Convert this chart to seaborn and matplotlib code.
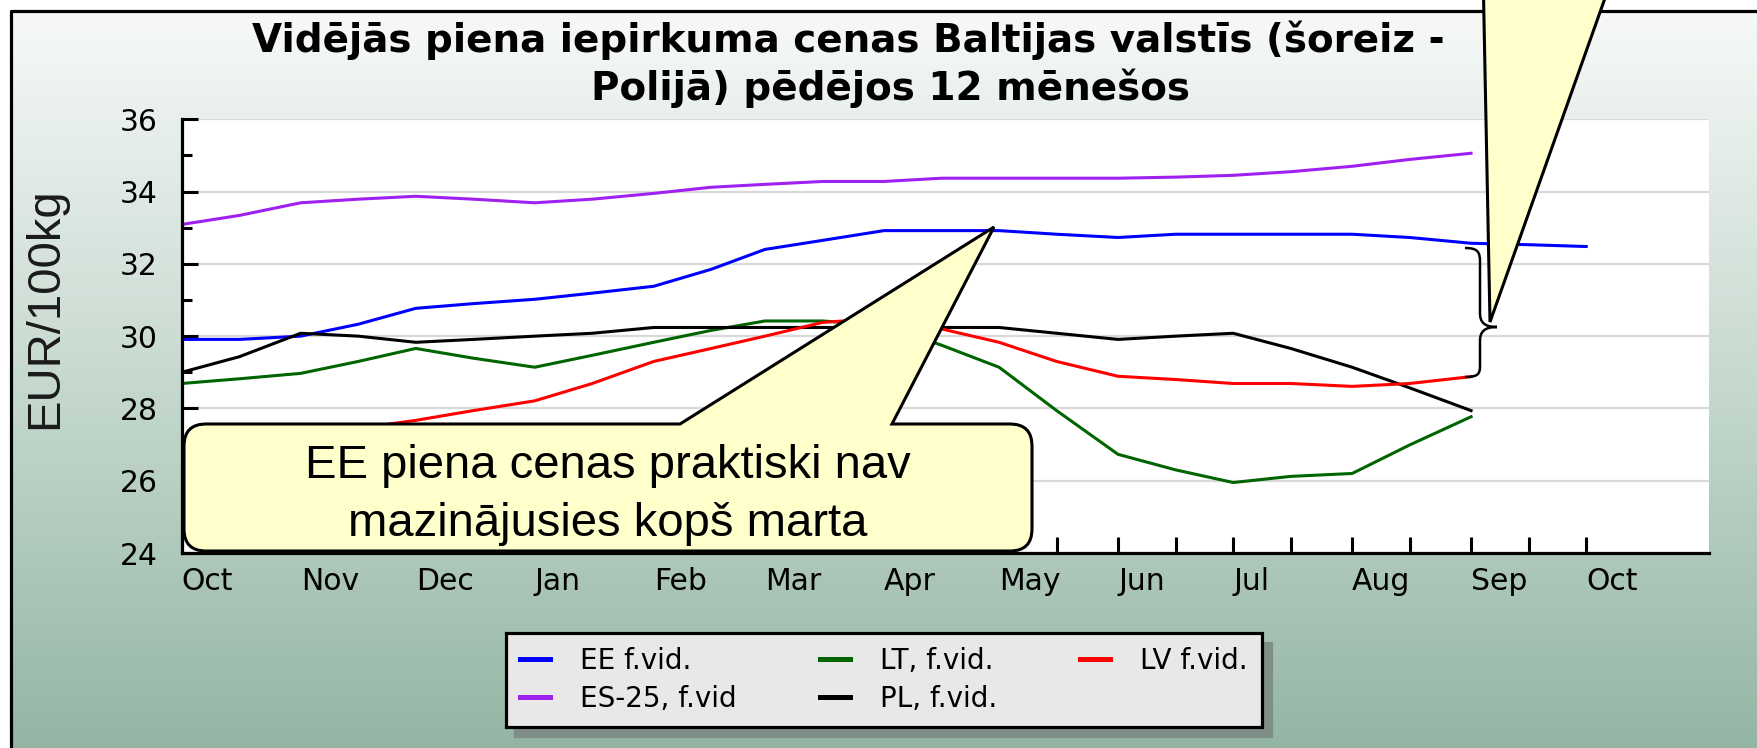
"""
Vidējās piena iepirkuma cenas - Baltijas valstis un Polija, pēdējie 12 mēneši.
"""

# %%
import matplotlib

matplotlib.use("Agg")
import matplotlib.pyplot as plt
import numpy as np
import pandas as pd
import seaborn as sns
from matplotlib.colors import LinearSegmentedColormap
from matplotlib.lines import Line2D
from matplotlib.patches import PathPatch, Polygon
from matplotlib.path import Path
from matplotlib.transforms import Affine2D

# %% [markdown]
# ## Data (1st and 16th of each month)

# %%
dates = pd.to_datetime([
    "2011-10-01", "2011-10-16", "2011-11-01", "2011-11-16", "2011-12-01",
    "2011-12-16", "2012-01-01", "2012-01-16", "2012-02-01", "2012-02-16",
    "2012-03-01", "2012-03-16", "2012-04-01", "2012-04-16", "2012-05-01",
    "2012-05-16", "2012-06-01", "2012-06-16", "2012-07-01", "2012-07-16",
    "2012-08-01", "2012-08-16", "2012-09-01", "2012-09-16", "2012-10-01",
])

ee = [29.91, 29.91, 30.00, 30.33, 30.77, 30.90, 31.02, 31.19, 31.38, 31.85,
      32.40, 32.65, 32.92, 32.92, 32.92, 32.82, 32.73, 32.82, 32.82, 32.82,
      32.82, 32.73, 32.57, 32.53, 32.48]
es25 = [33.09, 33.34, 33.69, 33.79, 33.87, 33.79, 33.69, 33.79, 33.95, 34.12,
        34.20, 34.28, 34.28, 34.37, 34.37, 34.37, 34.37, 34.40, 34.45, 34.55,
        34.70, 34.89, 35.06]
lt = [28.69, 28.82, 28.97, 29.30, 29.66, 29.39, 29.14, 29.47, 29.83, 30.16,
      30.42, 30.42, 30.30, 29.75, 29.14, 27.94, 26.73, 26.30, 25.95, 26.12,
      26.20, 26.99, 27.77]
pl = [29.00, 29.43, 30.08, 30.00, 29.83, 29.91, 30.00, 30.08, 30.24, 30.24,
      30.24, 30.24, 30.24, 30.24, 30.24, 30.08, 29.91, 30.00, 30.08, 29.66,
      29.14, 28.57, 27.94]
lv = [26.66, 26.95, 27.20, 27.45, 27.67, 27.94, 28.21, 28.69, 29.30, 29.66,
      30.00, 30.38, 30.50, 30.20, 29.83, 29.30, 28.89, 28.80, 28.69, 28.69,
      28.61, 28.69, 28.88]

# legend fills column-wise, so this order gives EE / ES-25 | LT / PL | LV
series_names = ["EE f.vid.", "ES-25, f.vid", "LT, f.vid.", "PL, f.vid.", "LV f.vid."]
series_colors = ["#0000ff", "#a020f0", "#006400", "#000000", "#ff0000"]
series_values = [ee, es25, lt, pl, lv]

month_labels = ["Oct", "Nov", "Dec", "Jan", "Feb", "Mar", "Apr",
                "May", "Jun", "Jul", "Aug", "Sep", "Oct"]
y_ticks = [24, 26, 28, 30, 32, 34, 36]

title_line1 = "Vidējās piena iepirkuma cenas Baltijas valstīs (šoreiz -"
title_line2 = "Polijā) pēdējos 12 mēnešos"
note_line1 = "EE piena cenas praktiski nav"
note_line2 = "mazinājusies kopš marta"

# %%
frames = []
for name, vals in zip(series_names, series_values):
    frames.append(pd.DataFrame({"date": dates[: len(vals)], "price": vals, "series": name}))
df = pd.concat(frames, ignore_index=True)

# %% [markdown]
# ## Figure

# %%
W, H = 1758, 748
fig = plt.figure(figsize=(W / 100, H / 100), dpi=100)
fig.patch.set_facecolor("white")
# pixel coordinates, origin top-left
px = Affine2D().scale(1 / W, -1 / H).translate(0, 1) + fig.transFigure

# background panel with vertical gradient and black border
bg = fig.add_axes([0, 0, 1, 1], zorder=-5)
bg.set_axis_off()
bg.set_xlim(0, W)
bg.set_ylim(H, 0)
panel_cmap = LinearSegmentedColormap.from_list("panel", ["#f7f9f8", "#c6d9cf", "#93b5a4"])
bg.imshow(np.linspace(0, 1, 256)[:, None], cmap=panel_cmap, extent=[10, W + 5, H + 5, 10],
          aspect="auto", interpolation="bilinear")
bg.plot([11, 11, W + 5], [H + 5, 11, 11], color="black", lw=2.3, solid_capstyle="butt")

# %%
ax = fig.add_axes([181.7 / W, 1 - 553 / H, (1709 - 181.7) / W, (553 - 119.3) / H])
ax.set_facecolor("white")
sns.lineplot(
    data=df, x="date", y="price", hue="series", hue_order=series_names,
    palette=dict(zip(series_names, series_colors)), lw=2.2, ax=ax, legend=False,
)

ax.set_ylim(y_ticks[0], y_ticks[-1])
ax.set_yticks(y_ticks)
ax.set_yticks(np.arange(y_ticks[0] + 1, y_ticks[-1], 2), minor=True)
ax.set_xlim(dates[0], dates[-1] + pd.Timedelta(days=32))
month_starts = pd.date_range(dates[0], dates[-1], freq="MS")
ax.set_xticks(month_starts)
ax.set_xticks(month_starts[:-1] + pd.Timedelta(days=15), minor=True)
ax.set_xticklabels(month_labels, ha="left")
ax.set_xlabel("")
ax.set_ylabel("")

for side in ["top", "right"]:
    ax.spines[side].set_visible(False)
for side in ["left", "bottom"]:
    ax.spines[side].set_linewidth(2.3)
    ax.spines[side].set_color("black")

ax.tick_params(axis="y", which="major", direction="in", length=11.5, width=2.2,
               labelsize=21.5, pad=17)
ax.tick_params(axis="y", which="minor", direction="in", length=7, width=2.2)
ax.tick_params(axis="x", which="both", direction="in", length=11.5, width=2.2,
               labelsize=21.5, pad=10)
ax.yaxis.grid(True, color="#d9d9d9", lw=1.6)
ax.xaxis.grid(False)
ax.set_axisbelow(True)

# %% [markdown]
# ## Texts, legend, callouts

# %%
fig.text(848, 52, title_line1, transform=px, ha="center", va="baseline",
         fontsize=28, weight="bold", family="DejaVu Sans")
fig.text(891, 100, title_line2, transform=px, ha="center", va="baseline",
         fontsize=28, weight="bold", family="DejaVu Sans")
fig.text(45, 308, "EUR/100kg", transform=px, rotation=90, ha="center", va="center",
         fontsize=34, family="Liberation Sans", color="#1a1a1a")

handles = [Line2D([], [], color=c, lw=3.6) for c in series_colors]
leg = fig.legend(
    handles, series_names, ncol=3, loc="upper left",
    bbox_to_anchor=(506 / W, 1 - 633 / H), frameon=True, fancybox=False, framealpha=1,
    shadow={"ox": 6.5, "oy": -7, "color": "#7f8f87", "alpha": 1},
    prop={"family": "DejaVu Sans", "size": 20},
    handlelength=1.08, handletextpad=1.08, columnspacing=3.0,
    borderpad=0.5, labelspacing=0.35, borderaxespad=0,
)
leg.get_frame().set_edgecolor("black")
leg.get_frame().set_linewidth(2.3)
leg.get_frame().set_facecolor("#e8e8e8")


def callout_path(x0, y0, x1, y1, r, base_l, base_r, tip):
    # rounded box with a pointer leaving from the top edge
    M, L, C, Z = Path.MOVETO, Path.LINETO, Path.CURVE3, Path.CLOSEPOLY
    verts = [(x0 + r, y0), (base_l, y0), tip, (base_r, y0), (x1 - r, y0),
             (x1, y0), (x1, y0 + r), (x1, y1 - r), (x1, y1), (x1 - r, y1),
             (x0 + r, y1), (x0, y1), (x0, y1 - r), (x0, y0 + r), (x0, y0), (x0 + r, y0),
             (x0 + r, y0)]
    codes = [M, L, L, L, L, C, C, L, C, C, L, C, C, L, C, C, Z]
    return Path(verts, codes)


fig.add_artist(PathPatch(callout_path(184, 424, 1032, 551, 22, 680, 892, (994, 227)),
                         transform=px, facecolor="#ffffcc", edgecolor="black", lw=2.2, zorder=6))
fig.text(608, 478, note_line1, transform=px, ha="center", va="baseline",
         fontsize=34, family="Liberation Sans", zorder=7)
fig.text(608, 536, note_line2, transform=px, ha="center", va="baseline",
         fontsize=34, family="Liberation Sans", zorder=7)

# pointer of the second callout (its box is above the picture)
fig.add_artist(Polygon([(1483, -30), (1615, -30), (1490, 322)], closed=True, transform=px,
                       facecolor="#ffffcc", edgecolor="black", lw=2.2, zorder=6))

# curly brace between EE and LV in September
B = Path.CURVE4
brace = Path(
    [(1465, 248), (1478, 248), (1480, 252), (1480, 262), (1480, 313),
     (1480, 322), (1484, 327), (1497, 327),
     (1484, 327), (1480, 332), (1480, 341), (1480, 366),
     (1480, 374), (1478, 377), (1465, 377)],
    [Path.MOVETO, B, B, B, Path.LINETO, B, B, B, B, B, B, Path.LINETO, B, B, B],
)
fig.add_artist(PathPatch(brace, transform=px, fill=False, edgecolor="black", lw=1.8, zorder=5))

fig.savefig("out.png", dpi=100)
